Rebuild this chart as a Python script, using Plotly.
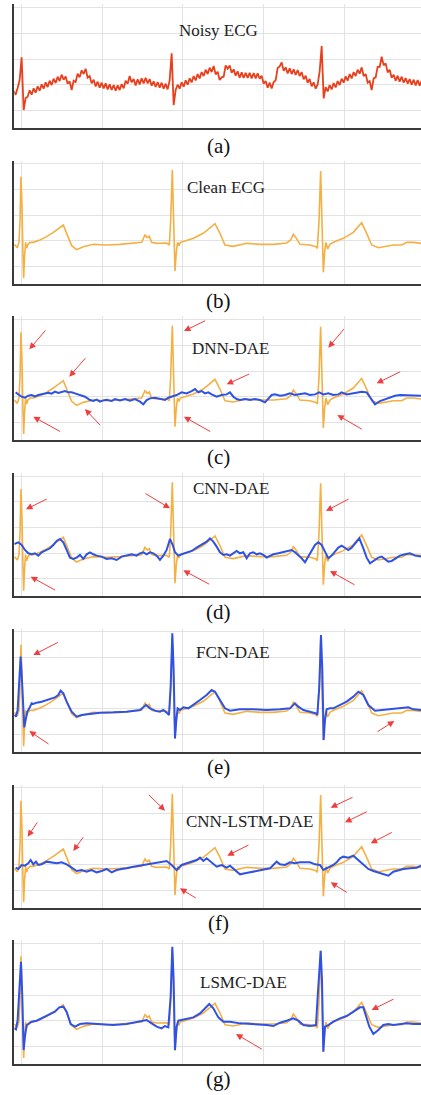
import plotly.graph_objects as go

# ---------------- data (time in samples, amplitude in arbitrary units) ----------------
noisy_v = [-19, -30, -10, 14, 82, -76, -40, -36, -17, -30, -11, -24, -5, -18, 1, -12, 7, -7, 12, -1,
           18, 5, 24, 11, 30, 15, 25, 3, 10, -16, 12, 8, 33, 22, 43, 32, 48, 21, 26, 4,
           15, -5, 9, -9, 6, -11, 4, -14, 1, -16, -1, -18, -2, -16, 2, -11, 12, 3, 26, 7,
           17, -2, 16, 1, 19, 4, 21, 4, 17, -3, 10, -7, 8, -9, 6, -12, 3, -14, 13, 94,
           -61, -16, 0, -12, 7, -6, 13, 0, 19, 7, 26, 13, 32, 19, 38, 26, 45, 32, 51, 38,
           56, 31, 39, 14, 22, 24, 58, 48, 58, 36, 46, 27, 40, 21, 37, 20, 36, 20, 36, 19,
           35, 19, 34, 18, 27, 3, 11, -9, 6, -11, 8, 13, 50, 55, 67, 42, 52, 34, 49, 32,
           46, 29, 44, 26, 38, 16, 27, 6, 17, -5, 7, -12, 1, 40, 116, -41, -7, -20, -1, -14,
           5, -8, 11, -1, 18, 6, 25, 12, 32, 19, 38, 26, 45, 33, 52, 26, 32, 6, 11, -16,
           19, 22, 54, 53, 84, 58, 64, 37, 45, 21, 30, 12, 27, 9, 24, 6, 20, 3, 17, 0,
           15, -2, 14, -3, 12]
noisy_t = [-24 + 6 * i for i in range(len(noisy_v))]

clean_t = [-22, -17, -13, -8, -5, -2, 1, 4, 6, 9, 12, 15, 19, 25, 35, 55, 75, 95, 115, 125,
           135, 150, 165, 185, 215, 255, 295, 335, 360, 370, 377, 383, 390, 405, 435, 443, 447, 452, 456, 460,
           464, 468, 472, 476, 490, 515, 545, 565, 580, 595, 610, 635, 675, 715, 755, 795, 807, 815, 823, 835,
           865, 883, 887, 892, 897, 901, 905, 909, 913, 918, 925, 935, 965, 995, 1020, 1035, 1050, 1070, 1115, 1140,
           1155, 1175, 1198]
clean_v = [-10, -14, -20, -4, 58, 193, 108, -42, -112, -42, -4, -22, -10, -4, -4, 3, 13, 26, 40, 48,
           23, -14, -26, -17, -10, -12, -10, -7, -4, 18, 10, 14, -4, -7, -6, -12, 58, 213, 58, -90,
           -32, -4, -14, -4, 0, 8, 23, 40, 52, 23, -12, -16, -7, -10, -10, -6, 3, 20, 10, -10,
           -12, -17, -22, 58, 210, 58, -94, -32, -4, -24, -10, -4, 8, 26, 55, 23, -12, -20, -12, -12,
           -4, -4, -7]

dnn_t = [-18, -10, 0, 10, 20, 30, 40, 50, 60, 70, 80, 90, 100, 110, 120, 130, 140, 150, 160, 175,
         190, 205, 215, 225, 235, 245, 255, 270, 280, 295, 310, 325, 340, 355, 365, 375, 385, 400, 415, 430,
         440, 450, 465, 480, 495, 510, 520, 530, 540, 550, 560, 570, 585, 600, 615, 625, 635, 645, 655, 670,
         685, 700, 715, 730, 740, 750, 760, 775, 790, 805, 820, 835, 850, 865, 880, 893, 905, 920, 935, 950,
         960, 975, 990, 1005, 1020, 1035, 1045, 1060, 1075, 1090, 1105, 1120, 1135, 1155, 1175, 1198]
dnn_v = [13, 7, 0, -3, 3, 5, 1, 5, 7, 10, 12, 9, 15, 11, 13, 17, 13, 13, 10, 5,
         0, -10, -13, -9, -15, -11, -9, -13, -7, -11, -7, -12, -7, -15, -23, -10, -5, -3, -7, -10,
         -3, 0, 5, 13, 10, 17, 23, 13, 17, 10, 13, 7, 0, 5, 7, 13, 0, -7, -10, -7,
         -10, -7, -10, -17, -7, 5, 7, 3, 5, 10, 5, 7, 10, 5, 7, 13, 7, 10, 5, 7,
         13, 7, 10, 13, 15, 13, 0, -23, -13, -7, -3, 3, 5, 5, 3, 3]

cnn_t = [-22, -10, 0, 10, 20, 30, 40, 50, 60, 75, 85, 95, 105, 115, 125, 135, 145, 155, 165, 175,
         185, 195, 205, 215, 225, 240, 255, 270, 285, 300, 315, 330, 345, 355, 365, 375, 385, 395, 405, 415,
         425, 435, 445, 453, 460, 470, 480, 495, 510, 525, 540, 555, 565, 575, 585, 595, 605, 615, 625, 635,
         645, 655, 665, 675, 685, 695, 705, 715, 725, 735, 745, 755, 770, 785, 800, 810, 820, 830, 840, 850,
         860, 870, 880, 890, 900, 910, 920, 930, 940, 950, 960, 970, 980, 990, 1000, 1013, 1025, 1035, 1045, 1060,
         1070, 1080, 1090, 1100, 1110, 1120, 1135, 1150, 1165, 1180, 1198]
cnn_v = [28, 33, 25, 10, 0, -3, 0, -7, 3, 10, 15, 25, 37, 43, 33, 10, -13, -17, -13, -5,
         -17, -3, 3, -3, -7, -10, -17, -15, -20, -10, -7, -3, -7, 0, 3, -3, 3, 0, -7, -20,
         -7, 10, 43, 25, 3, -7, -3, 3, 7, 17, 25, 35, 45, 35, 20, 3, -5, -3, -7, 0,
         7, 0, 3, -15, 0, 3, -3, 0, -5, -13, -7, -3, 0, 3, 7, 10, 3, -5, -15, -27,
         -10, 10, 25, 33, 25, 5, -15, -7, 5, 17, 23, 17, 10, 17, 30, 45, 15, -13, -30, -20,
         -13, -10, -17, -25, -23, -17, -7, -3, 0, -7, -10]

fcn_t = [-22, -17, -12, -7, -3, 1, 5, 8, 12, 17, 23, 30, 35, 45, 60, 75, 90, 100, 110, 117,
         125, 135, 150, 165, 180, 200, 235, 275, 315, 355, 373, 385, 400, 415, 425, 435, 442, 447, 452, 456,
         460, 464, 468, 475, 485, 500, 515, 535, 555, 570, 580, 595, 610, 625, 655, 695, 735, 775, 805, 820,
         830, 845, 865, 883, 887, 893, 898, 902, 906, 910, 915, 925, 935, 950, 975, 995, 1010, 1025, 1040, 1060,
         1080, 1105, 1135, 1160, 1175, 1198]
fcn_v = [-18, -23, -3, 87, 157, 87, -13, -55, -33, -8, 2, 17, 15, 19, 22, 27, 32, 35, 42, 55,
         47, 22, -8, -23, -18, -15, -11, -10, -8, -3, 12, 2, -5, -8, -3, -11, -18, 67, 227, 117,
         -88, -33, 2, -3, 5, 2, 12, 27, 42, 57, 52, 27, 2, -5, -1, -1, -3, -1, 2, 17,
         7, -3, -8, -13, -18, 67, 222, 117, -93, -33, -1, 2, 2, 9, 22, 37, 52, 42, 12, -5,
         -3, -1, 2, 5, -1, -3]

lstm_t = [-18, -10, 0, 10, 20, 27, 35, 43, 50, 60, 75, 90, 105, 120, 135, 150, 165, 180, 195, 210,
          225, 240, 255, 270, 285, 300, 315, 335, 355, 375, 395, 415, 435, 450, 465, 480, 495, 510, 525, 535,
          545, 555, 570, 585, 600, 615, 625, 640, 655, 670, 685, 700, 715, 730, 745, 755, 765, 775, 790, 805,
          820, 835, 850, 865, 880, 895, 905, 915, 925, 935, 945, 955, 965, 980, 995, 1010, 1025, 1040, 1055, 1070,
          1085, 1100, 1115, 1130, 1145, 1165, 1185, 1198]
lstm_v = [-8, -12, 0, -2, 5, 15, 2, 10, 0, 2, 10, 8, 5, 8, 2, -8, -18, -15, -20, -15,
          -22, -18, -12, -22, -15, -12, -10, -5, -2, 2, 5, 8, 12, 0, -15, 0, 5, 12, 15, 22,
          12, 20, 8, -5, 0, -8, -2, -15, -28, -25, -22, -18, -15, -12, -10, 0, 10, 2, 0, 8,
          5, 8, 8, 8, 2, 0, -15, -10, -5, 0, 8, 20, 25, 22, 28, 15, 0, -12, -18, -22,
          -28, -32, -20, -15, -12, -10, -8, -2]

lsmc_t = [-22, -17, -12, -7, -2, 2, 6, 10, 15, 20, 30, 45, 60, 80, 100, 113, 125, 135, 147, 160,
          175, 195, 235, 275, 315, 355, 375, 390, 405, 420, 430, 440, 447, 452, 456, 460, 465, 470, 480, 495,
          515, 535, 550, 563, 575, 590, 605, 625, 655, 695, 735, 755, 775, 795, 815, 830, 845, 865, 883, 888,
          897, 901, 905, 910, 920, 935, 955, 975, 995, 1015, 1025, 1033, 1043, 1055, 1070, 1085, 1100, 1115, 1135, 1155,
          1175, 1198]
lsmc_v = [-23, -26, 2, 92, 177, 72, -88, -48, -13, -10, -3, 0, 7, 17, 27, 40, 42, 27, -10, -18,
          -10, -8, -10, -13, -10, -3, 2, -8, -18, -23, -16, -20, 72, 222, 122, -88, -18, 0, 2, 7,
          10, 22, 37, 50, 37, 10, -3, -3, -8, -10, -13, -16, -6, 0, 7, 0, -13, -16, -13, 72,
          210, 122, -93, -18, -13, -3, 7, 14, 27, 40, 40, 17, -18, -40, -28, -13, -10, -13, -10, -8,
          -10, -10]

titles = ["Noisy ECG", "Clean ECG", "DNN-DAE", "CNN-DAE", "FCN-DAE", "CNN-LSTM-DAE", "LSMC-DAE"]
labels = ["(a)", "(b)", "(c)", "(d)", "(e)", "(f)", "(g)"]
denoised = [None, None, (dnn_t, dnn_v), (cnn_t, cnn_v), (fcn_t, fcn_v), (lstm_t, lstm_v), (lsmc_t, lsmc_v)]

# ---------------- layout geometry ----------------
W, H = 421, 1095
RED, ORANGE, BLUE = "#E8401C", "#F4B042", "#2F52E6"
ARROW = "#EE2A2A"
grid0_px = [84.7, 241, 396.7, 553.3, 709, 865, 1020.7]
title_px = [(219, 30), (226, 187), (230, 348), (232, 488), (233, 652), (250, 821), (243, 982)]
label_px = [(219, 146), (219, 301), (219, 457), (219, 612), (219, 767), (219, 923), (219, 1079)]
YLO, YHI = -129, 241
XLO, XHI = -22, 1198
left_px = 14.3

arrows = [
    [],
    [],
    [(75, 203, 23, 142), (195, 120, 143, 60), (120, -107, 35, -60), (240, -90, 190, -37),
     (555, 230, 487, 197), (687, 70, 615, 37), (570, -107, 487, -60),
     (970, 207, 920, 147), (1140, 77, 1065, 40), (1025, -100, 947, -55)],
    [(80, 165, 13, 132), (105, -113, 27, -70), (367, 182, 445, 135), (567, -95, 485, -51),
     (985, 165, 913, 127), (1003, -97, 925, -53)],
    [(113, 202, 35, 162), (85, -108, 23, -66), (1063, -71, 1118, -36)],
    [(50, 132, 18, 85), (188, 88, 155, 42), (377, 215, 430, 163), (685, 62, 617, 28),
     (527, -102, 475, -70), (997, 205, 927, 172), (1040, 162, 970, 128),
     (1115, 100, 1047, 65), (980, -85, 927, -52)],
    [(1120, 67, 1050, 32), (725, -88, 643, -40)],
]

fig = go.Figure()
layout = dict(width=W, height=H, margin=dict(l=0, r=0, t=0, b=0),
              paper_bgcolor="white", plot_bgcolor="white", showlegend=False)
annotations = []
SERIF = "Liberation Serif, Times New Roman, serif"

for i in range(7):
    n = "" if i == 0 else str(i + 1)
    xa, ya = "x" + n, "y" + n
    bottom = grid0_px[i] + (-YLO) / 3.0
    top = grid0_px[i] - YHI / 3.0
    layout["xaxis" + n] = dict(domain=[left_px / W, 1], range=[XLO, XHI], anchor=ya,
                               showgrid=True, gridcolor="#E2E2E2", gridwidth=1,
                               tick0=0, dtick=242, zeroline=False, showticklabels=False, ticks="",
                               showline=True, linecolor="#3A3A3A", linewidth=2, fixedrange=True)
    layout["yaxis" + n] = dict(domain=[1 - bottom / H, 1 - top / H], range=[YLO, YHI], anchor=xa,
                               showgrid=True, gridcolor="#E2E2E2", gridwidth=1,
                               tick0=0, dtick=77, zeroline=False, showticklabels=False, ticks="",
                               showline=True, linecolor="#3A3A3A", linewidth=2, fixedrange=True)
    if i == 0:
        fig.add_trace(go.Scatter(x=noisy_t, y=noisy_v, mode="lines", xaxis=xa, yaxis=ya,
                                 line=dict(color=RED, width=1.8)))
    else:
        fig.add_trace(go.Scatter(x=clean_t, y=clean_v, mode="lines", xaxis=xa, yaxis=ya,
                                 line=dict(color=ORANGE, width=1.6)))
        if denoised[i] is not None:
            dt, dv = denoised[i]
            fig.add_trace(go.Scatter(x=dt, y=dv, mode="lines", xaxis=xa, yaxis=ya,
                                     line=dict(color=BLUE, width=2)))
    tx, ty = title_px[i]
    annotations.append(dict(text=titles[i], x=tx / W, y=1 - ty / H, xref="paper", yref="paper",
                            xanchor="center", yanchor="middle", showarrow=False,
                            font=dict(family=SERIF, size=17, color="#222")))
    lx, ly = label_px[i]
    annotations.append(dict(text=labels[i], x=lx / W, y=1 - ly / H, xref="paper", yref="paper",
                            xanchor="center", yanchor="middle", showarrow=False,
                            font=dict(family=SERIF, size=21, color="#111")))
    for (ax_, ay_, hx, hy) in arrows[i]:
        annotations.append(dict(text="", x=hx, y=hy, ax=ax_, ay=ay_, xref=xa, yref=ya,
                                axref=xa, ayref=ya, showarrow=True, arrowhead=2, arrowsize=1.3,
                                arrowwidth=1, arrowcolor=ARROW, opacity=0.9))

layout["annotations"] = annotations
fig.update_layout(**layout)
fig.write_html("out.html", config={"displayModeBar": False},
               post_script="document.body.style.margin='0';document.body.style.overflow='hidden';")
